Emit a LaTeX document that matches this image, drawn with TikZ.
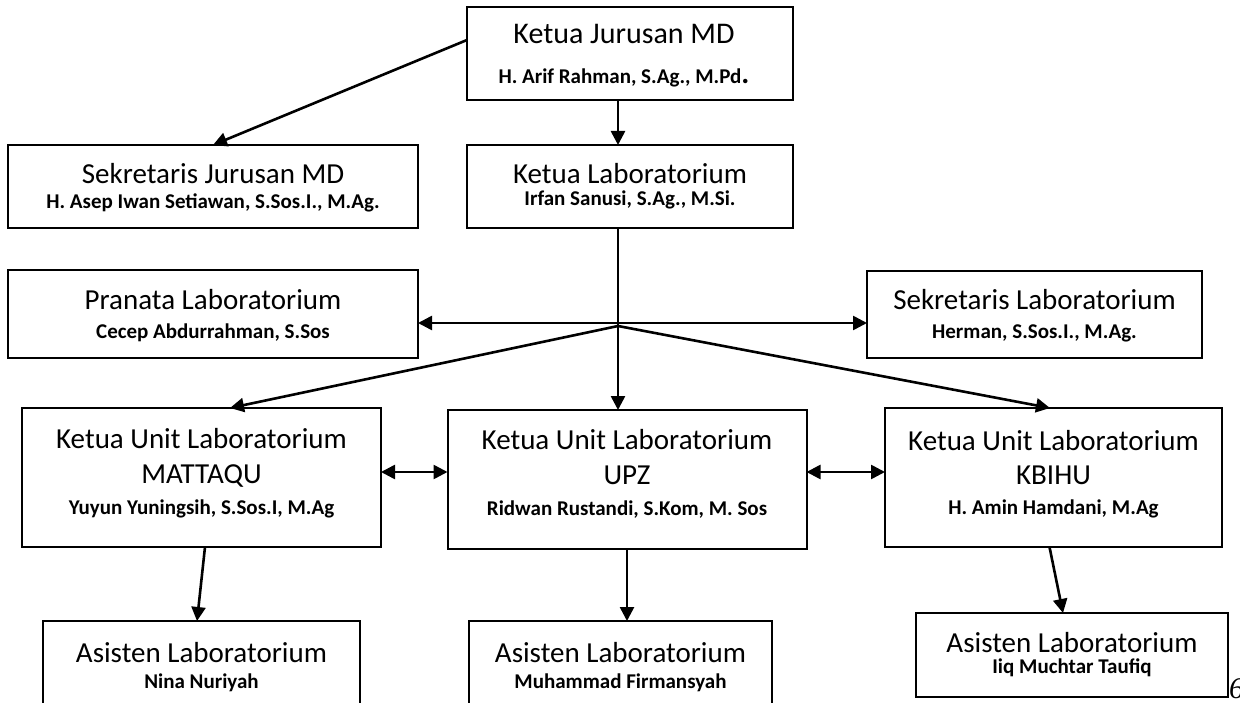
\documentclass[tikz,border=0pt]{standalone}
\usepackage{fontspec}
\setmainfont{Carlito}
\newfontfamily\pagefont{Liberation Serif}
\usetikzlibrary{arrows.meta}

\tikzset{
  box/.style={draw=black, line width=2pt, fill=white, inner sep=0pt, outer sep=0pt},
  ttl/.style={anchor=base, inner sep=0pt, font=\fontsize{29}{34}\selectfont},
  nm/.style={anchor=base, inner sep=0pt, font=\bfseries\fontsize{21}{25}\selectfont},
  link/.style={line width=2.6pt, -{Triangle[length=14pt,width=14pt]}},
  twoway/.style={line width=2.6pt, {Triangle[length=14pt,width=14pt]}-{Triangle[length=14pt,width=14pt]}}
}

\begin{document}
\begin{tikzpicture}[x=1pt, y=-1pt]
\useasboundingbox (0,0) rectangle (1240,703);

% boxes
\node[box, minimum width=326pt, minimum height=93pt]  (kj)      at (630,53.5)   {};
\node[box, minimum width=410pt, minimum height=83pt]  (sekj)    at (213,186.5)  {};
\node[box, minimum width=326pt, minimum height=83pt]  (klab)    at (630,186.5)  {};
\node[box, minimum width=410pt, minimum height=88pt]  (pranata) at (213,314)    {};
\node[box, minimum width=335pt, minimum height=87pt]  (seklab)  at (1034.5,314.5) {};
\node[box, minimum width=359pt, minimum height=139pt] (mattaqu) at (201.5,477.5) {};
\node[box, minimum width=359pt, minimum height=139pt] (upz)     at (627,479.5)  {};
\node[box, minimum width=337pt, minimum height=139pt] (kbihu)   at (1053.5,477.5) {};
\node[box, minimum width=317pt, minimum height=109pt] (asis1)   at (201.5,675.5) {};
\node[box, minimum width=303pt, minimum height=109pt] (asis2)   at (620.5,675.5) {};
\node[box, minimum width=312pt, minimum height=84pt]  (asis3)   at (1072,655)   {};

% texts
\node[ttl, font=\fontsize{30}{34}\selectfont] (kj-t) at (624,44) {Ketua Jurusan MD};
\node[nm] (kj-n) at (624,84) {H. Arif Rahman, S.Ag., M.Pd{\fontsize{30}{30}\selectfont .}};

\node[ttl] (sekj-t) at (213,184) {Sekretaris Jurusan MD};
\node[nm]  (sekj-n) at (213,209) {H. Asep Iwan Setiawan, S.Sos.I., M.Ag.};

\node[ttl] (klab-t) at (630,184) {Ketua Laboratorium};
\node[nm]  (klab-n) at (630,206) {Irfan Sanusi, S.Ag., M.Si.};

\node[ttl] (pranata-t) at (213,310) {Pranata Laboratorium};
\node[nm]  (pranata-n) at (213,338) {Cecep Abdurrahman, S.Sos};

\node[ttl] (seklab-t) at (1034.5,310) {Sekretaris Laboratorium};
\node[nm]  (seklab-n) at (1034.5,338) {Herman, S.Sos.I., M.Ag.};

\node[ttl] (mattaqu-t1) at (201.5,448) {Ketua Unit Laboratorium};
\node[ttl] (mattaqu-t2) at (201.5,483) {MATTAQU};
\node[nm]  (mattaqu-n)  at (201.5,514) {Yuyun Yuningsih, S.Sos.I, M.Ag};

\node[ttl] (upz-t1) at (627,449) {Ketua Unit Laboratorium};
\node[ttl] (upz-t2) at (627,484) {UPZ};
\node[nm]  (upz-n)  at (627,515) {Ridwan Rustandi, S.Kom, M. Sos};

\node[ttl] (kbihu-t1) at (1053.5,450) {Ketua Unit Laboratorium};
\node[ttl] (kbihu-t2) at (1053.5,484) {KBIHU};
\node[nm]  (kbihu-n)  at (1053.5,514) {H. Amin Hamdani, M.Ag};

\node[ttl] (asis1-t) at (201.5,662) {Asisten Laboratorium};
\node[nm]  (asis1-n) at (201.5,688) {Nina Nuriyah};

\node[ttl] (asis2-t) at (620.5,662) {Asisten Laboratorium};
\node[nm]  (asis2-n) at (620.5,688) {Muhammad Firmansyah};

\node[ttl] (asis3-t) at (1072,652) {Asisten Laboratorium};
\node[nm]  (asis3-n) at (1072,673) {Iiq Muchtar Taufiq};

% page number at the edge
\node[anchor=base west, inner sep=0pt] (pg) at (1229,698) {\pagefont\itshape\fontsize{30}{30}\selectfont 6};

% branching points below the head of the laboratory
\coordinate (hub)  at (618,323);
\coordinate (hubd) at (618,326);

% connectors
\draw[link] ([yshift=13.5pt]kj.west) -- (sekj.north);
\draw[link] ([xshift=-12pt]kj.south) -- ([xshift=-12pt]klab.north);
\draw[link] ([xshift=-12pt]klab.south) -- ([xshift=-9pt]upz.north);
\draw[link] (hub) -- (hub -| pranata.east);
\draw[link] (hub) -- (hub -| seklab.west);
\draw[link] (hubd) -- ([xshift=28.5pt]mattaqu.north);
\draw[link] (hubd) -- ([xshift=-3.5pt]kbihu.north);
\draw[twoway] ([yshift=5.5pt]mattaqu.east) -- ([yshift=5.5pt]mattaqu.east -| upz.west);
\draw[twoway] ([yshift=5.5pt]kbihu.west -| upz.east) -- ([yshift=5.5pt]kbihu.west);
\draw[link] ([xshift=3.5pt]mattaqu.south) -- ([xshift=-4.5pt]asis1.north);
\draw[link] (upz.south) -- (upz.south |- asis2.north);
\draw[link] ([xshift=-4pt]kbihu.south) -- ([xshift=-9pt]asis3.north);
\end{tikzpicture}
\end{document}
